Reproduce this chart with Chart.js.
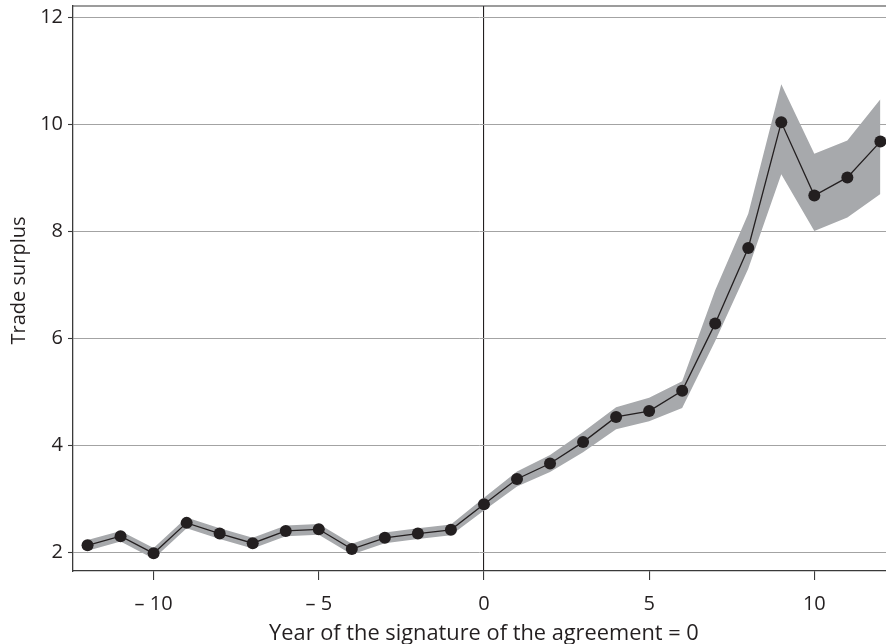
<!DOCTYPE html>
<html>
<head>
<meta charset="utf-8">
<script src="https://cdn.jsdelivr.net/npm/chart.js@4/dist/chart.umd.min.js"></script>
<style>
  html, body { margin: 0; padding: 0; background: #ffffff; }
  #wrap { width: 886px; height: 644px; }
</style>
</head>
<body>
<div id="wrap"><canvas id="c" width="886" height="644"></canvas></div>
<script>
// Years relative to the signature of the agreement
const years = [-12, -11, -10, -9, -8, -7, -6, -5, -4, -3, -2, -1, 0, 1, 2, 3, 4, 5, 6, 7, 8, 9, 10, 11, 12];
// Estimated trade surplus
const surplus = [2.13, 2.30, 1.98, 2.55, 2.35, 2.17, 2.40, 2.43, 2.06, 2.27, 2.35, 2.42, 2.90, 3.37, 3.66, 4.06, 4.53, 4.64, 5.02, 6.28, 7.69, 10.04, 8.67, 9.01, 9.68];
// Confidence band around the estimate
const upperBound = [2.23, 2.40, 2.08, 2.65, 2.45, 2.27, 2.50, 2.53, 2.16, 2.37, 2.45, 2.52, 3.02, 3.51, 3.82, 4.25, 4.71, 4.89, 5.20, 6.90, 8.33, 10.75, 9.45, 9.70, 10.47];
const lowerBound = [2.03, 2.20, 1.88, 2.45, 2.25, 2.07, 2.30, 2.33, 1.96, 2.17, 2.25, 2.32, 2.78, 3.23, 3.50, 3.87, 4.30, 4.45, 4.70, 5.95, 7.30, 9.07, 8.01, 8.26, 8.70];
// Axis ticks
const xTicks = [-10, -5, 0, 5, 10];
const yTicks = [2, 4, 6, 8, 10, 12];
// Axis titles
const xTitle = 'Year of the signature of the agreement = 0';
const yTitle = 'Trade surplus';

const ink = '#231f20';
const axisInk = '#3a3a3a';
const bandGray = '#a7a9ac';
const fontFamily = '"Open Sans", "Noto Sans", sans-serif';

const toPoints = vals => years.map((yr, i) => ({ x: yr, y: vals[i] }));

// Frame line along the top of the plot area, plus both axis titles
const frameAndTitles = {
  id: 'frameAndTitles',
  afterDraw(chart) {
    const { ctx, chartArea } = chart;
    ctx.save();
    ctx.strokeStyle = axisInk;
    ctx.lineWidth = 1.2;
    ctx.beginPath();
    ctx.moveTo(chartArea.left, chartArea.top);
    ctx.lineTo(chart.width, chartArea.top);
    ctx.stroke();

    ctx.fillStyle = ink;
    ctx.textAlign = 'center';
    ctx.textBaseline = 'alphabetic';

    // horizontal title, centred under the signature year
    ctx.font = '21.8px ' + fontFamily;
    ctx.fillText(xTitle, chart.scales.x.getPixelForValue(0), 639.5);

    // vertical title
    ctx.translate(25, 280.5);
    ctx.rotate(-Math.PI / 2);
    ctx.font = '20px ' + fontFamily;
    ctx.fillText(yTitle, 0, 0);
    ctx.restore();
  }
};

new Chart(document.getElementById('c'), {
  type: 'line',
  data: {
    datasets: [
      {
        label: 'upper',
        data: toPoints(upperBound),
        borderWidth: 0,
        borderColor: 'transparent',
        backgroundColor: bandGray,
        pointRadius: 0,
        fill: '+1',
        tension: 0,
        order: 2
      },
      {
        label: 'lower',
        data: toPoints(lowerBound),
        borderWidth: 0,
        borderColor: 'transparent',
        backgroundColor: bandGray,
        pointRadius: 0,
        fill: false,
        tension: 0,
        order: 3
      },
      {
        label: yTitle,
        data: toPoints(surplus),
        borderColor: ink,
        borderWidth: 1.3,
        backgroundColor: ink,
        pointRadius: 6,
        pointBorderWidth: 0,
        pointBackgroundColor: ink,
        fill: false,
        tension: 0,
        order: 0
      }
    ]
  },
  plugins: [frameAndTitles],
  options: {
    responsive: false,
    animation: false,
    layout: { autoPadding: false, padding: { top: 6, right: 0, left: 0, bottom: 0 } },
    plugins: {
      legend: { display: false },
      tooltip: { enabled: false }
    },
    scales: {
      x: {
        type: 'linear',
        min: -12.44,
        max: 12.17,
        afterBuildTicks: scale => { scale.ticks = xTicks.map(v => ({ value: v })); },
        afterFit: scale => {
          scale.height = 73;
          scale.paddingLeft = 0;
          scale.paddingRight = 0;
        },
        border: { display: true, color: axisInk, width: 1.3 },
        grid: {
          drawOnChartArea: true,
          drawTicks: true,
          tickLength: 9,
          color: c => (c.tick && c.tick.value === 0 ? ink : 'rgba(0,0,0,0)'),
          lineWidth: 1.1,
          tickColor: axisInk,
          tickWidth: 1.1
        },
        ticks: {
          color: ink,
          padding: 12,
          maxRotation: 0,
          font: { family: fontFamily, size: 20 },
          callback: v => (v < 0 ? '\u2013 ' + Math.abs(v) : String(v))
        },
        title: { display: false }
      },
      y: {
        type: 'linear',
        min: 1.65,
        max: 12.215,
        afterBuildTicks: scale => { scale.ticks = yTicks.map(v => ({ value: v })); },
        afterFit: scale => {
          scale.width = 73;
          scale.paddingTop = 0;
          scale.paddingBottom = 0;
        },
        border: { display: true, color: axisInk, width: 1.3 },
        grid: {
          drawTicks: true,
          tickLength: 5,
          color: '#a3a3a3',
          lineWidth: 1,
          tickColor: axisInk,
          tickWidth: 1.1
        },
        ticks: {
          color: ink,
          padding: 5,
          font: { family: fontFamily, size: 20 }
        },
        title: { display: false }
      }
    }
  }
});
</script>
</body>
</html>
